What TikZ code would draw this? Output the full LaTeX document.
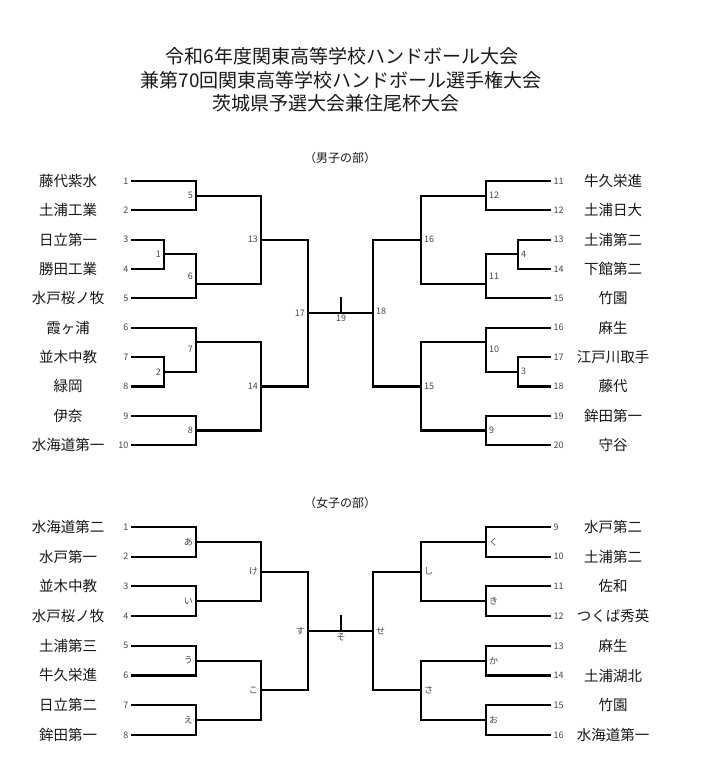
\documentclass[tikz,border=0pt]{standalone}
\usepackage{fontspec}
\setmainfont{Noto Sans CJK JP}
\usepackage{xcolor}
\usepackage{tikz}
\usetikzlibrary{positioning}

\tikzset{
    bracket/.style={line width=2.1pt, line cap=rect},
    team/.style={font=\fontsize{14.5}{16}\selectfont, text=black!90, inner sep=0pt},
    seed/.style={font=\fontsize{9}{10}\selectfont, text=black!72, inner sep=3.5pt},
    matchno/.style={font=\fontsize{9}{10}\selectfont, text=black!72, inner sep=3pt},
    heading/.style={font=\fontsize{19}{22}\selectfont, text=black!90, inner sep=0pt},
    section/.style={font=\fontsize{12}{14}\selectfont, text=black!90, inner sep=0pt}
}

\begin{document}
\begin{tikzpicture}[x=1pt, y=1pt]
    \useasboundingbox[fill=white] (0,0) rectangle (717,-763);

    % title
    \node[heading] (title1) at (342,-56) {令和6年度関東高等学校ハンドボール大会};
    \node[heading] (title2) at (341,-80) {兼第70回関東高等学校ハンドボール選手権大会};
    \node[heading] (title3) at (336,-103) {茨城県予選大会兼住尾杯大会};

    \node[section] (boys) at (340,-158) {（男子の部）};
    \node[section] (girls) at (340,-503) {（女子の部）};

    % boys
    \begin{scope}[yshift=-151.65pt, y=-29.35pt]
        \foreach \t [count=\i] in {藤代紫水,土浦工業,日立第一,勝田工業,水戸桜ノ牧,霞ヶ浦,並木中教,緑岡,伊奈,水海道第一} {
            \coordinate (bl\i) at (132,\i);
            \node[team] (nbl\i) at (68,\i) {\t};
            \node[seed, anchor=east] (sbl\i) at (bl\i) {\i};
        }
        \foreach \t [count=\i from 11] in {牛久栄進,土浦日大,土浦第二,下館第二,竹園,麻生,江戸川取手,藤代,鉾田第一,守谷} {
            \coordinate (br\i) at (550,\i-10);
            \node[team] (nbr\i) at (613,\i-10) {\t};
            \node[seed, anchor=west] (sbr\i) at (br\i) {\i};
        }

        \coordinate (m1) at (164,3.5);
        \coordinate (m2) at (164,7.5);
        \coordinate (m5) at (196,1.5);
        \coordinate (m6) at (196,4.5);
        \coordinate (m7) at (196,6.5);
        \coordinate (m8) at (196,9.5);
        \coordinate (m13) at (261,3);
        \coordinate (m14) at (261,8);
        \coordinate (m17) at (308,5.5);

        \coordinate (m4) at (518,3.5);
        \coordinate (m3) at (518,7.5);
        \coordinate (m12) at (486,1.5);
        \coordinate (m11) at (486,4.5);
        \coordinate (m10) at (486,6.5);
        \coordinate (m9) at (486,9.5);
        \coordinate (m16) at (421,3);
        \coordinate (m15) at (421,8);
        \coordinate (m18) at (373,5.5);
        \coordinate (t19) at (341,5);

        \draw[bracket] (bl3) -| (m1) |- (bl4);
        \draw[bracket] (bl7) -| (m2) |- (bl8);
        \draw[bracket] (bl1) -| (m5) |- (bl2);
        \draw[bracket] (m1) -| (m6) |- (bl5);
        \draw[bracket] (bl6) -| (m7) |- (m2);
        \draw[bracket] (bl9) -| (m8) |- (bl10);
        \draw[bracket] (m5) -| (m13) |- (m6);
        \draw[bracket] (m7) -| (m14) |- (m8);
        \draw[bracket] (m13) -| (m17) |- (m14);

        \draw[bracket] (br13) -| (m4) |- (br14);
        \draw[bracket] (br17) -| (m3) |- (br18);
        \draw[bracket] (br11) -| (m12) |- (br12);
        \draw[bracket] (m4) -| (m11) |- (br15);
        \draw[bracket] (br16) -| (m10) |- (m3);
        \draw[bracket] (br19) -| (m9) |- (br20);
        \draw[bracket] (m12) -| (m16) |- (m11);
        \draw[bracket] (m10) -| (m15) |- (m9);
        \draw[bracket] (m16) -| (m18) |- (m15);

        \draw[bracket] (m17) -- (m18);
        \draw[bracket] (t19) -- (t19 |- m17);

        \node[matchno, anchor=east] (l1) at (164,3.5) {1};
        \node[matchno, anchor=east] (l2) at (164,7.5) {2};
        \node[matchno, anchor=east] (l5) at (196,1.5) {5};
        \node[matchno, anchor=east] (l6) at (196,4.25) {6};
        \node[matchno, anchor=east] (l7) at (196,6.75) {7};
        \node[matchno, anchor=east] (l8) at (196,9.5) {8};
        \node[matchno, anchor=east] (l13) at (261,3) {13};
        \node[matchno, anchor=east] (l14) at (261,8) {14};
        \node[matchno, anchor=east] (l17) at (308,5.5) {17};
        \node[matchno, anchor=west] (l4) at (518,3.5) {4};
        \node[matchno, anchor=west] (l3) at (518,7.5) {3};
        \node[matchno, anchor=west] (l12) at (486,1.5) {12};
        \node[matchno, anchor=west] (l11) at (486,4.25) {11};
        \node[matchno, anchor=west] (l10) at (486,6.75) {10};
        \node[matchno, anchor=west] (l9) at (486,9.5) {9};
        \node[matchno, anchor=west] (l16) at (421,3) {16};
        \node[matchno, anchor=west] (l15) at (421,8) {15};
        \node[matchno, anchor=west] (l18) at (373,5.45) {18};
        \node[matchno, anchor=north, inner sep=2pt] (l19) at (t19 |- m17) {19};
    \end{scope}

    % girls
    \begin{scope}[yshift=-497.3pt, y=-29.7pt]
        \foreach \t [count=\i] in {水海道第二,水戸第一,並木中教,水戸桜ノ牧,土浦第三,牛久栄進,日立第二,鉾田第一} {
            \coordinate (gl\i) at (132,\i);
            \node[team] (ngl\i) at (68,\i) {\t};
            \node[seed, anchor=east] (sgl\i) at (gl\i) {\i};
        }
        \foreach \t [count=\i from 9] in {水戸第二,土浦第二,佐和,つくば秀英,麻生,土浦湖北,竹園,水海道第一} {
            \coordinate (gr\i) at (550,\i-8);
            \node[team] (ngr\i) at (613,\i-8) {\t};
            \node[seed, anchor=west] (sgr\i) at (gr\i) {\i};
        }

        \coordinate (fa) at (196,1.5);
        \coordinate (fi) at (196,3.5);
        \coordinate (fu) at (196,5.5);
        \coordinate (fe) at (196,7.5);
        \coordinate (fke) at (261,2.5);
        \coordinate (fko) at (261,6.5);
        \coordinate (fsu) at (308,4.5);

        \coordinate (fku) at (486,1.5);
        \coordinate (fki) at (486,3.5);
        \coordinate (fka) at (486,5.5);
        \coordinate (fo) at (486,7.5);
        \coordinate (fshi) at (421,2.5);
        \coordinate (fsa) at (421,6.5);
        \coordinate (fse) at (373,4.5);
        \coordinate (tso) at (341,4);

        \draw[bracket] (gl1) -| (fa) |- (gl2);
        \draw[bracket] (gl3) -| (fi) |- (gl4);
        \draw[bracket] (gl5) -| (fu) |- (gl6);
        \draw[bracket] (gl7) -| (fe) |- (gl8);
        \draw[bracket] (fa) -| (fke) |- (fi);
        \draw[bracket] (fu) -| (fko) |- (fe);
        \draw[bracket] (fke) -| (fsu) |- (fko);

        \draw[bracket] (gr9) -| (fku) |- (gr10);
        \draw[bracket] (gr11) -| (fki) |- (gr12);
        \draw[bracket] (gr13) -| (fka) |- (gr14);
        \draw[bracket] (gr15) -| (fo) |- (gr16);
        \draw[bracket] (fku) -| (fshi) |- (fki);
        \draw[bracket] (fka) -| (fsa) |- (fo);
        \draw[bracket] (fshi) -| (fse) |- (fsa);

        \draw[bracket] (fsu) -- (fse);
        \draw[bracket] (tso) -- (tso |- fsu);

        \node[matchno, anchor=east] (la) at (196,1.5) {あ};
        \node[matchno, anchor=east] (li) at (196,3.5) {い};
        \node[matchno, anchor=east] (lu) at (196,5.5) {う};
        \node[matchno, anchor=east] (le) at (196,7.5) {え};
        \node[matchno, anchor=east] (lke) at (261,2.5) {け};
        \node[matchno, anchor=east] (lko) at (261,6.5) {こ};
        \node[matchno, anchor=east] (lsu) at (308,4.5) {す};
        \node[matchno, anchor=west] (lku) at (486,1.5) {く};
        \node[matchno, anchor=west] (lki) at (486,3.5) {き};
        \node[matchno, anchor=west] (lka) at (486,5.5) {か};
        \node[matchno, anchor=west] (lo) at (486,7.5) {お};
        \node[matchno, anchor=west] (lshi) at (421,2.5) {し};
        \node[matchno, anchor=west] (lsa) at (421,6.5) {さ};
        \node[matchno, anchor=west] (lse) at (373,4.5) {せ};
        \node[matchno, anchor=north, inner sep=2pt] (lso) at (tso |- fsu) {そ};
    \end{scope}
\end{tikzpicture}
\end{document}
